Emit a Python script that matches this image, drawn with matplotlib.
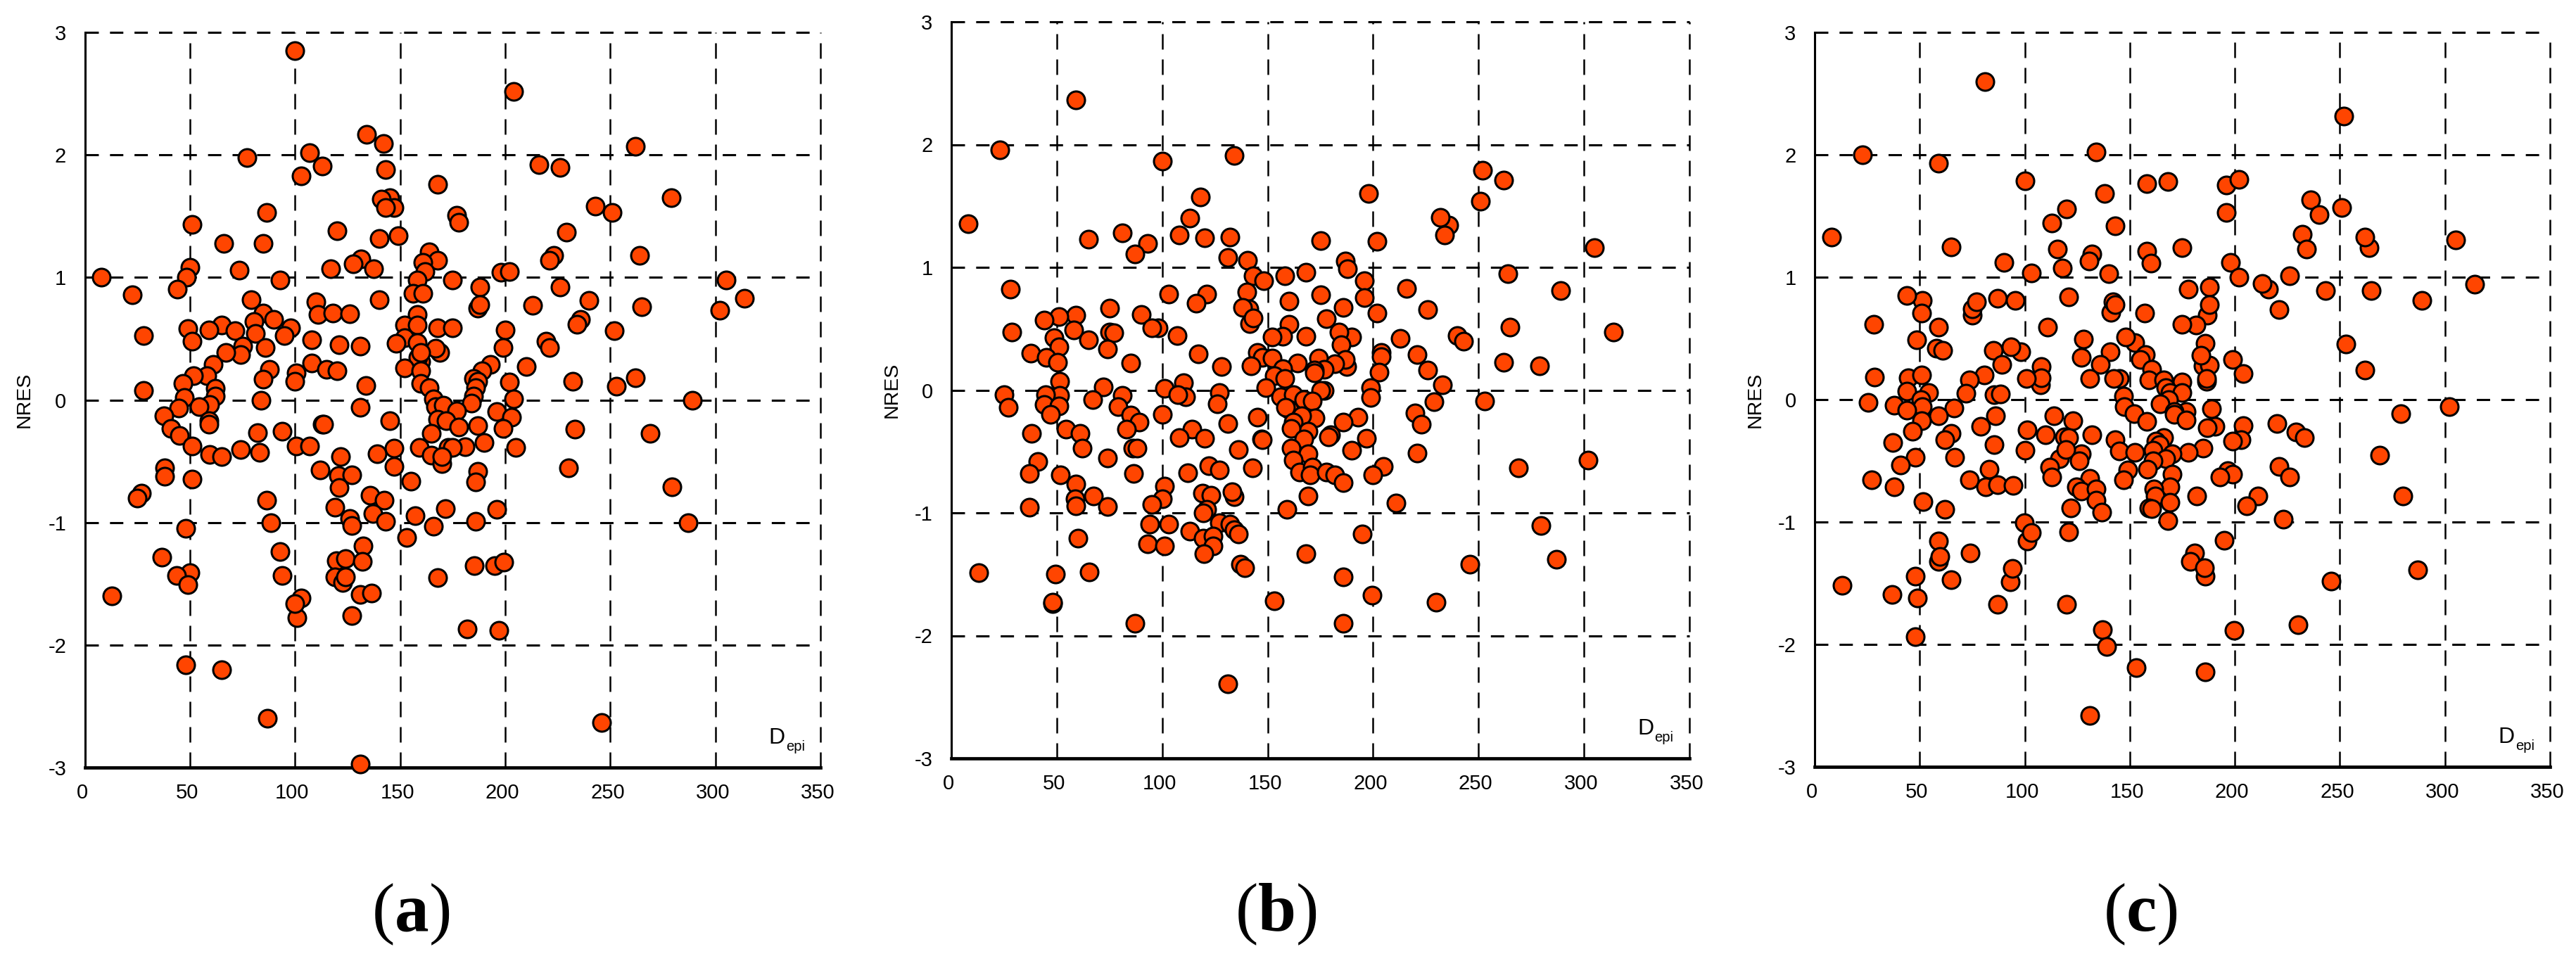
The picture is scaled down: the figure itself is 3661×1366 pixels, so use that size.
import matplotlib
matplotlib.use("Agg")
import matplotlib.pyplot as plt
from matplotlib.transforms import ScaledTranslation

plt.rcParams["axes.unicode_minus"] = False
plt.rcParams["mathtext.fontset"] = "custom"
plt.rcParams["mathtext.bf"] = "Liberation Serif:bold"
plt.rcParams["mathtext.rm"] = "Liberation Serif"

W, H = 3662, 1366
x_ticks = [0, 50, 100, 150, 200, 250, 300, 350]
y_ticks = [-3, -2, -1, 0, 1, 2, 3]
panel_labels = ["a", "b", "c"]

points_a = [
(100,2.85),(204,2.52),(134,2.17),(142,2.09),(107,2.02),(77,1.98),(113,1.91),(143,1.88),(216,1.92),(226,1.90),
(262,2.07),(103,1.83),(168,1.76),(145,1.65),(141,1.64),(147,1.57),(143,1.57),(279,1.65),(243,1.58),(251,1.53),
(177,1.51),(178,1.45),(86.5,1.53),(51,1.43),(120,1.38),(229,1.37),(149,1.34),(140,1.32),(66,1.28),(85,1.28),
(164,1.21),(264,1.18),(223,1.18),(221,1.14),(168,1.14),(161,1.12),(131.5,1.15),(127.6,1.11),(137.5,1.07),(117,1.07),
(50,1.08),(73.5,1.06),(162,1.05),(198,1.04),(202,1.05),(48.5,1.0),(8,1.0),(158,0.98),(175,0.98),(305,0.98),
(93,0.98),(188,0.92),(226,0.92),(44,0.905),(22.5,0.86),(156,0.87),(161,0.87),(240,0.81),(79,0.82),(110,0.80),
(140,0.82),(314,0.83),(187,0.75),(188,0.78),(213,0.77),(265,0.76),(302,0.73),(111,0.70),(118,0.71),(126,0.705),
(85,0.71),(158,0.70),(236,0.66),(234,0.62),(90,0.66),(80.5,0.64),(65,0.61),(152,0.61),(158,0.61),(168,0.59),
(175,0.59),(98,0.59),(49,0.58),(59,0.57),(71.6,0.565),(200,0.57),(252,0.565),(81,0.54),(28,0.525),(95,0.525),
(108,0.49),(51,0.48),(152,0.51),(148,0.46),(158,0.47),(219.5,0.48),(221,0.43),(121,0.45),(131,0.44),(86,0.43),
(199,0.43),(169,0.39),(167,0.42),(75,0.44),(74,0.37),(67,0.39),(160,0.315),(158.6,0.35),(160,0.39),(61,0.29),
(193,0.29),(210,0.27),(108,0.30),(88,0.25),(115,0.25),(120,0.24),(152,0.26),(189,0.24),(100.5,0.22),(160,0.24),
(58,0.2),(51.6,0.2),(262,0.18),(185,0.175),(85,0.17),(100,0.155),(202,0.145),(232,0.15),(160,0.135),(187,0.15),
(46.6,0.135),(133.6,0.12),(253,0.11),(186,0.1),(164,0.1),(62,0.095),(28,0.075),(62,0.03),(47.4,0.02),(84,0.0),
(166,0.01),(204,0.01),(185,0.03),(289,0.0),(59.4,-0.04),(184,-0.025),(167,-0.055),(44.5,-0.065),(54.4,-0.055),(131,-0.06),
(170.6,-0.045),(177,-0.09),(196,-0.095),(203,-0.14),(37.5,-0.13),(59,-0.17),(59,-0.2),(113,-0.2),(113.5,-0.2),(145,-0.17),
(168,-0.16),(172,-0.17),(178,-0.22),(187,-0.21),(199,-0.23),(41,-0.235),(233,-0.24),(94,-0.255),(82,-0.265),(269,-0.275),
(165,-0.275),(45,-0.29),(190,-0.345),(181,-0.38),(51,-0.375),(100.5,-0.375),(107,-0.375),(159,-0.39),(173,-0.39),(175,-0.385),
(205,-0.385),(147,-0.395),(74,-0.405),(83,-0.43),(59.4,-0.445),(65,-0.46),(139,-0.44),(121.6,-0.46),(165,-0.45),(170,-0.52),
(170,-0.46),(147,-0.54),(38,-0.555),(38,-0.625),(230,-0.555),(187,-0.58),(112,-0.57),(120.6,-0.62),(127,-0.61),(51,-0.645),
(155,-0.665),(186,-0.67),(279.5,-0.71),(121,-0.715),(27,-0.76),(25,-0.80),(135.7,-0.78),(142.4,-0.82),(86.5,-0.82),(119,-0.875),
(196,-0.89),(171.6,-0.885),(157,-0.945),(126,-0.97),(137,-0.93),(143,-0.99),(186,-0.99),(88.5,-1.0),(127,-1.025),(166,-1.03),
(48,-1.05),(287,-1.0),(153,-1.125),(132.5,-1.19),(93,-1.235),(119.5,-1.31),(124,-1.295),(132,-1.315),(36.7,-1.285),(195,-1.355),
(199.5,-1.325),(185.4,-1.355),(50,-1.41),(43.5,-1.43),(94,-1.43),(168,-1.45),(119,-1.445),(122.6,-1.49),(124,-1.445),(49,-1.51),
(13,-1.6),(103,-1.615),(131,-1.59),(136.5,-1.575),(101,-1.775),(100,-1.665),(127,-1.76),(182,-1.87),(197,-1.88),(48,-2.16),
(65,-2.2),(87,-2.6),(246,-2.63),(131,-2.97),
]

points_b = [
(59,2.365),(23,1.955),(100,1.865),(134,1.91),(252,1.79),(262,1.71),(118,1.575),(198,1.60),(251,1.54),(113,1.40),
(236,1.345),(232,1.405),(8,1.355),(234,1.265),(81,1.28),(108,1.265),(120,1.24),(132,1.245),(65,1.23),(175,1.22),
(202,1.21),(93,1.195),(305,1.16),(87,1.11),(131,1.08),(140.5,1.06),(187,1.05),(188,0.99),(168,0.96),(143,0.93),
(158,0.93),(148,0.89),(264,0.95),(196,0.89),(216,0.83),(28,0.82),(289,0.81),(140,0.80),(103,0.78),(121,0.785),
(175,0.775),(116,0.71),(160,0.725),(196,0.755),(226,0.657),(186,0.675),(75,0.67),(141,0.66),(138,0.675),(90,0.615),
(202,0.63),(59,0.61),(51,0.60),(44,0.57),(178,0.58),(141.6,0.54),(143,0.585),(160,0.535),(265,0.515),(98,0.505),
(95,0.51),(314,0.475),(28.6,0.475),(75,0.47),(77,0.465),(58,0.49),(190,0.43),(184,0.47),(240,0.445),(107,0.445),
(157,0.44),(152,0.43),(168,0.44),(48.6,0.425),(65,0.41),(243,0.40),(213,0.42),(185,0.37),(51,0.35),(74,0.335),
(204,0.305),(145,0.305),(37.7,0.30),(117,0.295),(221,0.29),(204,0.27),(45,0.265),(147.5,0.265),(174,0.26),(152,0.26),
(187.5,0.19),(187,0.25),(85,0.22),(164,0.22),(50.4,0.225),(262,0.225),(182,0.215),(128,0.19),(142,0.20),(279,0.195),
(226,0.165),(177,0.17),(157,0.175),(172,0.165),(172,0.14),(203,0.145),(153,0.12),(158,0.095),(51.4,0.07),(110,0.06),
(233,0.045),(101,0.015),(72,0.025),(149,0.02),(199,0.02),(177,0.0),(175,0.0),(51.4,-0.045),(44.7,-0.035),(25,-0.035),
(81,-0.045),(111,-0.055),(107.5,-0.04),(127,-0.02),(156,-0.055),(162,-0.035),(199,-0.06),(67,-0.08),(167,-0.08),(171,-0.09),
(253,-0.09),(126,-0.11),(229,-0.095),(44,-0.12),(27,-0.14),(51,-0.13),(79,-0.135),(160,-0.155),(158.4,-0.14),(193,-0.22),
(172.5,-0.225),(47,-0.2),(220,-0.185),(85,-0.205),(89,-0.26),(100,-0.2),(145,-0.22),(166,-0.21),(162,-0.26),(186,-0.26),
(223,-0.28),(131,-0.27),(83,-0.32),(54.5,-0.32),(114,-0.32),(169,-0.335),(161,-0.31),(38,-0.35),(61,-0.35),(180,-0.365),
(108,-0.385),(120,-0.39),(179,-0.38),(147,-0.4),(147.5,-0.405),(197,-0.395),(167,-0.40),(62,-0.47),(86,-0.475),(88,-0.47),
(161,-0.475),(136,-0.485),(190,-0.49),(169,-0.52),(162,-0.57),(74,-0.555),(221,-0.515),(302,-0.57),(41,-0.58),(205,-0.62),
(122,-0.615),(269,-0.635),(142.8,-0.635),(127,-0.65),(37,-0.68),(51.7,-0.69),(86.5,-0.68),(112,-0.675),(165,-0.67),(171,-0.63),
(170,-0.69),(178,-0.67),(182,-0.69),(186,-0.755),(200,-0.69),(101,-0.78),(59,-0.767),(67.5,-0.86),(169,-0.86),(58.8,-0.885),
(59,-0.94),(134,-0.87),(133,-0.83),(119,-0.84),(123,-0.855),(100,-0.887),(95,-0.93),(159,-0.97),(211,-0.917),(37,-0.955),
(74,-0.95),(121,-0.97),(119.5,-1.0),(127,-1.08),(132,-1.09),(94,-1.09),(103,-1.09),(113,-1.15),(134,-1.14),(136,-1.17),
(195,-1.17),(119.5,-1.205),(124,-1.19),(60,-1.205),(279.5,-1.105),(93,-1.25),(101,-1.27),(124,-1.27),(119.7,-1.33),(168,-1.33),
(287,-1.38),(137,-1.42),(139,-1.445),(246,-1.42),(13,-1.486),(65.5,-1.48),(49.4,-1.5),(186,-1.52),(199.5,-1.67),(153,-1.715),
(48,-1.74),(48,-1.73),(230,-1.73),(87,-1.9),(186,-1.9),(131,-2.395),
]

points_c = [
(81,2.595),(252,2.315),(134,2.025),(22.7,2.0),(59,1.93),(100,1.79),(196,1.755),(202,1.80),(158,1.765),(168,1.78),
(138,1.685),(120,1.555),(236,1.635),(251,1.57),(196,1.53),(240,1.51),(113,1.44),(143,1.42),(8,1.325),(232,1.35),
(264,1.24),(262,1.325),(305,1.305),(65,1.245),(115.7,1.23),(175,1.24),(234,1.23),(158,1.21),(132,1.19),(130.5,1.135),
(160,1.115),(90,1.12),(198,1.12),(118,1.077),(103,1.035),(140,1.03),(202,1.0),(226,1.01),(216,0.905),(213,0.95),
(178,0.905),(188,0.92),(243,0.89),(265,0.89),(314,0.94),(51.4,0.81),(44,0.85),(87,0.83),(95.5,0.81),(121,0.84),
(75,0.69),(75,0.74),(77,0.80),(289,0.81),(141,0.71),(142,0.80),(143,0.775),(187,0.69),(188,0.775),(51,0.705),
(157,0.705),(221,0.735),(28,0.615),(59,0.59),(111,0.59),(181.5,0.61),(175,0.615),(152.5,0.465),(148,0.51),(48.6,0.49),
(128,0.495),(253,0.455),(186,0.46),(58,0.42),(61,0.405),(85,0.405),(98,0.39),(93.5,0.43),(140.7,0.39),(157.4,0.365),
(185,0.275),(188,0.28),(184,0.36),(127,0.345),(155,0.33),(199,0.325),(136,0.285),(89,0.285),(160.3,0.25),(108,0.27),
(262,0.24),(204,0.215),(28.5,0.185),(44.6,0.18),(51,0.2),(80.7,0.2),(107.6,0.12),(108,0.18),(73.6,0.16),(100.8,0.17),
(131,0.17),(145,0.17),(142.3,0.17),(159,0.16),(166,0.16),(175,0.145),(186.7,0.15),(186.7,0.17),(167,0.1),(44,0.07),
(54.3,0.06),(72,0.05),(169,0.06),(175,0.06),(85.4,0.04),(88.5,0.045),(147,0.03),(168.4,0.0),(50.6,0.0),(25.3,-0.023),
(164.5,-0.035),(38,-0.045),(51.4,-0.055),(66.3,-0.07),(302,-0.06),(147.5,-0.06),(44,-0.087),(177,-0.1),(189,-0.077),(171,-0.095),
(279,-0.115),(86,-0.13),(59,-0.13),(152,-0.115),(114,-0.13),(171,-0.12),(177,-0.167),(51,-0.17),(123,-0.17),(158,-0.18),
(190.6,-0.22),(204,-0.21),(187,-0.23),(79,-0.22),(220,-0.197),(101,-0.245),(65,-0.275),(46.5,-0.26),(229,-0.265),(132,-0.287),
(110,-0.29),(119,-0.305),(121,-0.31),(233,-0.31),(166,-0.31),(203,-0.325),(62,-0.325),(143,-0.33),(199,-0.34),(162.4,-0.34),
(37.3,-0.35),(185,-0.395),(85.4,-0.365),(164,-0.37),(100,-0.415),(145,-0.42),(152.5,-0.43),(178,-0.43),(161,-0.415),(170,-0.445),
(167,-0.48),(127,-0.44),(116.7,-0.48),(119.6,-0.41),(269,-0.455),(47.8,-0.47),(66.8,-0.47),(126,-0.5),(161,-0.5),(41,-0.535),
(149,-0.575),(112,-0.55),(158.5,-0.57),(83,-0.57),(170,-0.61),(221,-0.545),(113,-0.635),(226,-0.635),(196.7,-0.58),(199,-0.61),
(27,-0.655),(193,-0.635),(147,-0.655),(73.6,-0.655),(131,-0.645),(38,-0.71),(81.5,-0.715),(87,-0.695),(94.5,-0.70),(124.5,-0.715),
(127,-0.745),(134,-0.73),(169,-0.715),(161.6,-0.73),(182,-0.785),(211,-0.79),(280,-0.785),(134,-0.82),(162,-0.79),(51.7,-0.835),
(205.5,-0.87),(169,-0.84),(62,-0.895),(122,-0.885),(159,-0.885),(160.5,-0.89),(136.5,-0.92),(168,-0.99),(223,-0.975),(99.7,-1.005),
(121,-1.08),(101,-1.155),(103,-1.085),(59,-1.155),(195,-1.15),(74,-1.255),(181,-1.25),(58.8,-1.32),(59.5,-1.28),(179,-1.32),
(186,-1.445),(185.6,-1.375),(93,-1.49),(94,-1.38),(287,-1.39),(246,-1.48),(48,-1.445),(65,-1.47),(13,-1.52),(37,-1.59),
(49,-1.62),(87,-1.67),(120,-1.67),(230,-1.84),(137,-1.88),(199.5,-1.885),(48,-1.935),(139,-2.02),(153,-2.19),(186,-2.225),
(131,-2.58),
]

boxes = [(120.6, 46, 1166, 1091), (1352, 31, 2401, 1078), (2579, 46, 3624, 1090)]
title_x = [584, 1813, 3042]
ylabel_x = [35, 1268, 2495]
all_points = [points_a, points_b, points_c]

sans = "Liberation Sans"
fig = plt.figure(figsize=(W / 100, H / 100), dpi=100, facecolor="white")

for pts, box, tx, lab, lx in zip(all_points, boxes, title_x, panel_labels, ylabel_x):
    l, t, r, b = box
    ax = fig.add_axes([l / W, 1 - b / H, (r - l) / W, (b - t) / H])
    depi = [p[0] for p in pts]
    nres = [p[1] for p in pts]
    ax.set_xlim(0, 350)
    ax.set_ylim(-3, 3)
    ax.set_xticks(x_ticks)
    ax.set_yticks(y_ticks)
    ax.set_axisbelow(True)
    ax.grid(True, axis="y", color="black", lw=2.2, linestyle=(0, (6.2, 5.2)))
    ax.grid(True, axis="x", color="black", lw=1.8, linestyle=(0, (8.8, 5.6)))
    for gl in ax.get_xgridlines() + ax.get_ygridlines():
        gl.set_clip_on(False)
    for s in ("top", "right"):
        ax.spines[s].set_visible(False)
    ax.spines["left"].set_linewidth(2.2)
    ax.spines["bottom"].set_linewidth(3.4)
    ax.tick_params(axis="both", length=0, labelsize=21)
    ax.tick_params(axis="x", pad=16)
    ax.tick_params(axis="y", pad=19)
    for tl in ax.get_xticklabels() + ax.get_yticklabels():
        tl.set_family(sans)
    shift = ScaledTranslation(-4 / 100, 0, fig.dpi_scale_trans)
    for tl in ax.get_xticklabels():
        tl.set_transform(tl.get_transform() + shift)
    ax.scatter(depi, nres, s=324, c="#FF4500", edgecolors="black", linewidths=2.2,
               zorder=3, clip_on=False)
    ax.set_ylabel("NRES", family=sans, fontsize=20.5, va="center")
    ax.yaxis.set_label_coords((lx - l) / (r - l), 0.5)
    ax.text(325.5, -2.805, "D", family=sans, fontsize=23, ha="left", va="baseline")
    ax.text(333.5, -2.86, "epi", family=sans, fontsize=14.5, ha="left", va="baseline")
    fig.text(tx / W, 1 - 1323 / H, "(" + r"$\mathbf{" + lab + "}$" + ")",
             family="Liberation Serif", fontsize=70, ha="center", va="baseline")

fig.savefig("out.png", dpi=100, facecolor="white")
